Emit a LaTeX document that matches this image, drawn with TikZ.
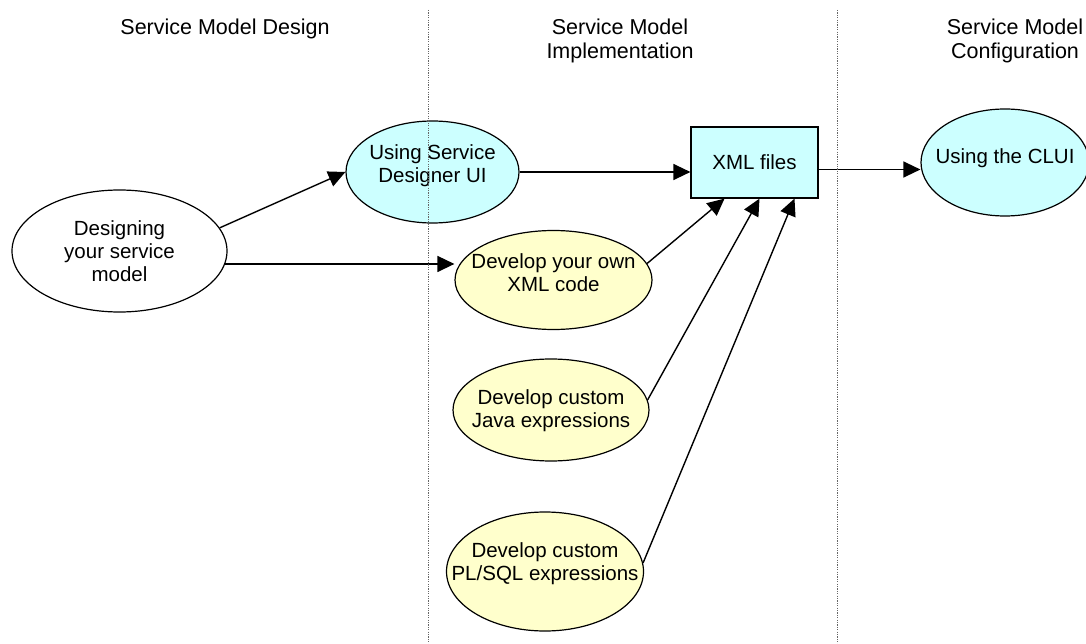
\documentclass[tikz,border=0pt]{standalone}
\usepackage{fontspec}
\setmainfont{Liberation Sans}
\usetikzlibrary{arrows.meta,positioning,shapes.geometric}
\definecolor{paleCyan}{HTML}{CCFFFF}
\definecolor{paleYellow}{HTML}{FFFFCC}

\begin{document}
\begin{tikzpicture}[x=1pt,y=-1pt,
    every node/.style={font=\fontsize{20.5}{23}\selectfont,align=center},
    header/.style={font=\fontsize{21.5}{24}\selectfont},
    oval/.style={ellipse,draw,line width=1.2pt,inner sep=0pt},
    arr/.style={-{Triangle[length=17pt,width=16pt]},line width=1.4pt}]
  \useasboundingbox (0,0) rectangle (1086,644);
  \node[header] (hdesign) at (225,29) {Service Model Design};
  \node[header] (himpl) at (620,41) {Service Model\\Implementation};
  \node[header] (hconf) at (1015,41) {Service Model\\Configuration};
  \node[oval,minimum width=215,minimum height=122,
    label={center:Designing\\your service\\model}] (design) at (119.5,251) {};
  \node[oval,fill=paleCyan,minimum width=173,minimum height=102,
    label={[yshift=6pt]center:Using Service\\Designer UI}] (ui) at (432.5,172) {};
  \node[oval,fill=paleYellow,minimum width=197,minimum height=99,
    label={[yshift=7pt]center:Develop your own\\XML code}] (xmlcode) at (553.5,280) {};
  \node[oval,fill=paleYellow,minimum width=196,minimum height=102,
    label={[yshift=-1pt]center:Develop custom\\Java expressions}] (java) at (551,410) {};
  \node[oval,fill=paleYellow,minimum width=197,minimum height=119,
    label={[yshift=8pt]center:Develop custom\\PL/SQL expressions}] (plsql) at (545,571.5) {};
  \node[draw,fill=paleCyan,line width=1.2pt,minimum width=127,minimum height=71] (xmlfiles) at (754.5,162.5) {XML files};
  \node[oval,fill=paleCyan,minimum width=168,minimum height=107,
    label={[yshift=4pt]center:Using the CLUI}] (clui) at (1005,162.5) {};
  \draw[arr] (design.13) -- (ui.west);
  \draw[arr] (design.353) -- (design.353 -| xmlcode.west);
  \draw[arr] (ui.east) -- (ui.east -| xmlfiles.west);
  \draw[arr] ([yshift=-7pt]xmlfiles.east) -- ([yshift=-7pt]xmlfiles.east -| clui.west);
  \draw[arr] (xmlcode.10) -- ([xshift=-30pt]xmlfiles.south);
  \draw[arr] (java.6) -- ([xshift=5pt]xmlfiles.south);
  \draw[arr] (plsql.5) -- ([xshift=40pt]xmlfiles.south);
  \foreach \x in {428,837}{
    \draw[line width=1pt,black!60,dash pattern=on 1.2pt off 1.2pt] (\x,10) -- (\x,644);
  }
\end{tikzpicture}
\end{document}
